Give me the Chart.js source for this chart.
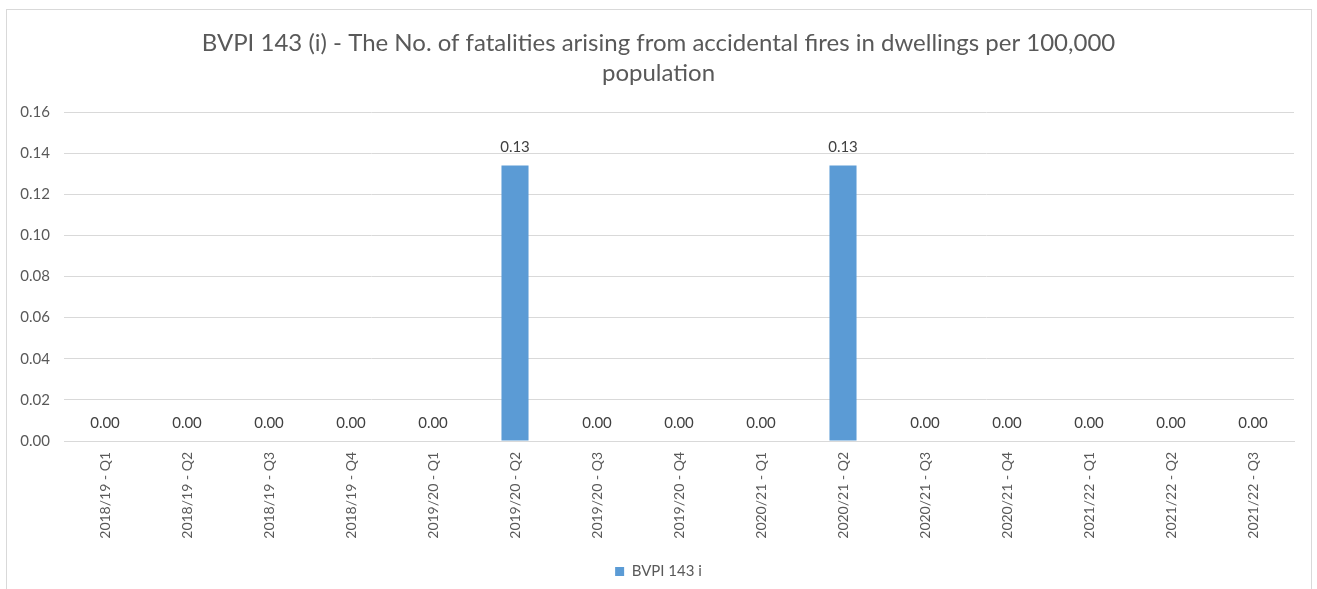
<!DOCTYPE html>
<html>
<head>
<meta charset="utf-8">
<script src="https://cdn.jsdelivr.net/npm/chart.js@4"></script>
<style>
html,body{margin:0;padding:0;background:#fff;width:1317px;height:589px;overflow:hidden;}
#frame{position:absolute;left:6px;top:9px;width:1306px;height:600px;border:1px solid #d9d9d9;box-sizing:border-box;}
#wrap{position:absolute;left:0;top:0;width:1317px;height:589px;}
</style>
</head>
<body>
<div id="frame"></div>
<div id="wrap"><canvas id="c" width="1317" height="589"></canvas></div>
<script>
const categories = ["2018/19 - Q1","2018/19 - Q2","2018/19 - Q3","2018/19 - Q4","2019/20 - Q1","2019/20 - Q2","2019/20 - Q3","2019/20 - Q4","2020/21 - Q1","2020/21 - Q2","2020/21 - Q3","2020/21 - Q4","2021/22 - Q1","2021/22 - Q2","2021/22 - Q3"];
const bvpi143i = [0,0,0,0,0,0.134,0,0,0,0.134,0,0,0,0,0];
const yTicks = [0,0.02,0.04,0.06,0.08,0.10,0.12,0.14,0.16];
const seriesName = "BVPI 143 i";
const titleLines = ["BVPI 143 (i) - The No. of fatalities arising from accidental fires in dwellings per 100,000","population"];

const FONT = "Lato, 'Liberation Sans', sans-serif";
const TXT = "#595959";

const labelPlugin = {
  id: 'valueLabels',
  afterDatasetsDraw(chart) {
    const ctx = chart.ctx;
    const meta = chart.getDatasetMeta(0);
    ctx.save();
    ctx.font = "15px " + FONT;
    ctx.fillStyle = "#404040";
    ctx.textAlign = "center";
    ctx.textBaseline = "middle";
    meta.data.forEach((el, i) => {
      const v = chart.data.datasets[0].data[i];
      ctx.fillText(v.toFixed(2), el.x, el.y - 18);
    });
    ctx.restore();
  }
};

new Chart(document.getElementById('c'), {
  type: 'bar',
  data: {
    labels: categories,
    datasets: [{
      label: seriesName,
      data: bvpi143i,
      backgroundColor: "#5b9bd5",
      borderWidth: 0,
      barPercentage: 0.33,
      categoryPercentage: 1.0
    }]
  },
  options: {
    responsive: false,
    animation: false,
    layout: { padding: 0 },
    plugins: {
      title: {
        display: true,
        text: titleLines,
        color: TXT,
        font: { family: FONT, size: 24, weight: 'normal', lineHeight: 1.25 },
        padding: { top: 28, bottom: 24 }
      },
      legend: {
        position: 'bottom',
        labels: {
          color: TXT,
          font: { family: FONT, size: 15 },
          boxWidth: 9, boxHeight: 9,
          padding: 10
        }
      },
      tooltip: { enabled: false }
    },
    scales: {
      x: {
        grid: { display: false, drawTicks: false },
        border: { color: "#d9d9d9" },
        ticks: { color: TXT, font: { family: FONT, size: 14 }, minRotation: 90, maxRotation: 90, padding: 11, autoSkip: false },
        afterFit(s) { s.height = 113; }
      },
      y: {
        min: 0, max: 0.16,
        afterBuildTicks(s) { s.ticks = yTicks.map(v => ({ value: v })); },
        grid: { color: "#d9d9d9", drawTicks: false },
        border: { display: false },
        ticks: { color: TXT, font: { family: FONT, size: 15 }, padding: 14, callback: v => Number(v).toFixed(2) },
        afterFit(s) { s.width = 64; }
      },
      yPad: {
        position: 'right',
        min: 0, max: 0.16,
        grid: { display: false, drawTicks: false },
        border: { display: false },
        ticks: { display: false },
        afterFit(s) { s.width = 23; }
      }
    }
  },
  plugins: [labelPlugin]
});
</script>
</body>
</html>
